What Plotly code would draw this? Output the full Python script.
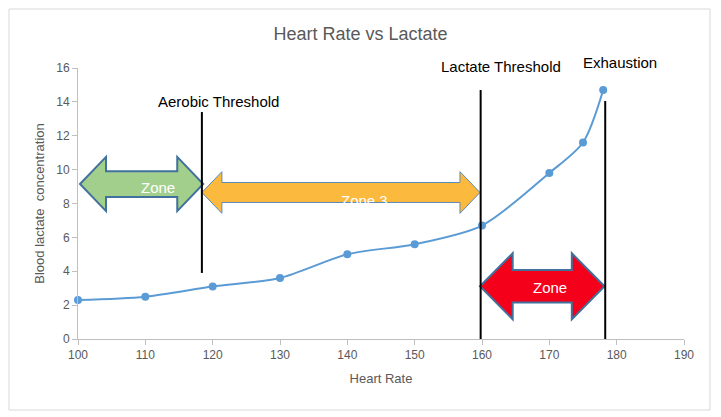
import plotly.graph_objects as go

# Data
heart_rate = [100, 110, 120, 130, 140, 150, 160, 170, 175, 178]
lactate = [2.3, 2.5, 3.1, 3.6, 5.0, 5.6, 6.7, 9.8, 11.6, 14.7]
x_ticks = [100, 110, 120, 130, 140, 150, 160, 170, 180, 190]
y_ticks = [0, 2, 4, 6, 8, 10, 12, 14, 16]
y_max = 16

# Threshold lines: x, y bottom, y top
threshold_x = [118.4, 159.8, 178.3]
threshold_y0 = [3.9, 0.0, 0.0]
threshold_y1 = [13.4, 14.7, 14.05]
label_text = ["Aerobic Threshold", "Lactate Threshold", "Exhaustion"]
label_x = [120.9, 162.8, 180.5]
label_y = [14.0, 16.1, 16.3]

# Zone arrows: x start, x end, y centre, head half height, shaft half height, head length
arrow_x0 = [100.3, 118.4, 159.7]
arrow_x1 = [118.6, 159.7, 178.2]
arrow_yc = [9.15, 8.65, 3.11]
arrow_head = [1.6, 1.23, 1.95]
arrow_shaft = [0.76, 0.59, 0.96]
arrow_len = [3.86, 2.97, 4.86]
arrow_fill = ["#a3cf8c", "#fbb93e", "#f5001a"]
arrow_border = ["#41719c", "#5a8ab8", "#41719c"]
arrow_bw = [2, 1, 2]
zone_text = ["Zone", "Zone 3", "Zone"]
zone_tx = [111.9, 142.6, 170.1]
zone_ty = [8.95, 8.2, 3.07]

fig = go.Figure()
fig.add_trace(go.Scatter(
    x=heart_rate, y=lactate, mode="lines+markers",
    line=dict(color="#5b9bd5", width=2, shape="spline", smoothing=0.8),
    marker=dict(color="#5b9bd5", size=8),
    showlegend=False, cliponaxis=False,
))

shapes = []
# outer border
shapes.append(dict(type="rect", xref="paper", yref="paper",
                   x0=-0.1139, x1=1.0429, y0=-0.262, y1=1.2177,
                   line=dict(color="#d9d9d9", width=1), layer="below"))

for i in range(3):
    a, b, c = arrow_x0[i], arrow_x1[i], arrow_yc[i]
    h, s, L = arrow_head[i], arrow_shaft[i], arrow_len[i]
    path = (f"M{a},{c} L{a+L},{c+h} L{a+L},{c+s} L{b-L},{c+s} L{b-L},{c+h} "
            f"L{b},{c} L{b-L},{c-h} L{b-L},{c-s} L{a+L},{c-s} L{a+L},{c-h} Z")
    shapes.append(dict(type="path", xref="x", yref="y", path=path,
                       fillcolor=arrow_fill[i],
                       line=dict(color=arrow_border[i], width=arrow_bw[i])))

for i in range(3):
    shapes.append(dict(type="line", xref="x", yref="y",
                       x0=threshold_x[i], x1=threshold_x[i],
                       y0=threshold_y0[i], y1=threshold_y1[i],
                       line=dict(color="black", width=2)))

annotations = []
for i in range(3):
    annotations.append(dict(x=label_x[i], y=label_y[i] / y_max, xref="x", yref="paper",
                            xanchor="center", yanchor="middle",
                            text=label_text[i], showarrow=False,
                            font=dict(family="Liberation Sans", size=15, color="black")))
for i in range(3):
    annotations.append(dict(x=zone_tx[i], y=zone_ty[i], xref="x", yref="y",
                            text=zone_text[i], showarrow=False,
                            font=dict(family="Liberation Sans", size=15, color="white")))

fig.update_layout(
    width=721, height=417,
    margin=dict(l=78, r=37, t=68, b=78),
    paper_bgcolor="white", plot_bgcolor="white",
    title=dict(text="Heart Rate vs Lactate", x=0.5, xanchor="center",
               y=0.92, yanchor="middle",
               font=dict(family="Liberation Sans", size=18, color="#595959")),
    shapes=shapes, annotations=annotations,
    font=dict(family="Liberation Sans", color="#595959"),
)
fig.update_xaxes(range=[100, 190], tickvals=x_ticks, showgrid=False, zeroline=False,
                 showline=True, linecolor="#bfbfbf", linewidth=1,
                 ticks="outside", ticklen=5, tickcolor="#bfbfbf",
                 tickfont=dict(size=12, color="#595959"),
                 title=dict(text="Heart Rate", font=dict(size=13, color="#595959"), standoff=12))
fig.update_yaxes(range=[0, y_max], tickvals=y_ticks, showgrid=False, zeroline=False,
                 showline=True, linecolor="#bfbfbf", linewidth=1,
                 ticks="outside", ticklen=5, tickcolor="#bfbfbf",
                 tickfont=dict(size=12, color="#595959"),
                 title=dict(text="Blood lactate  concentration", font=dict(size=13, color="#595959"), standoff=8))

fig.write_html("out.html")
